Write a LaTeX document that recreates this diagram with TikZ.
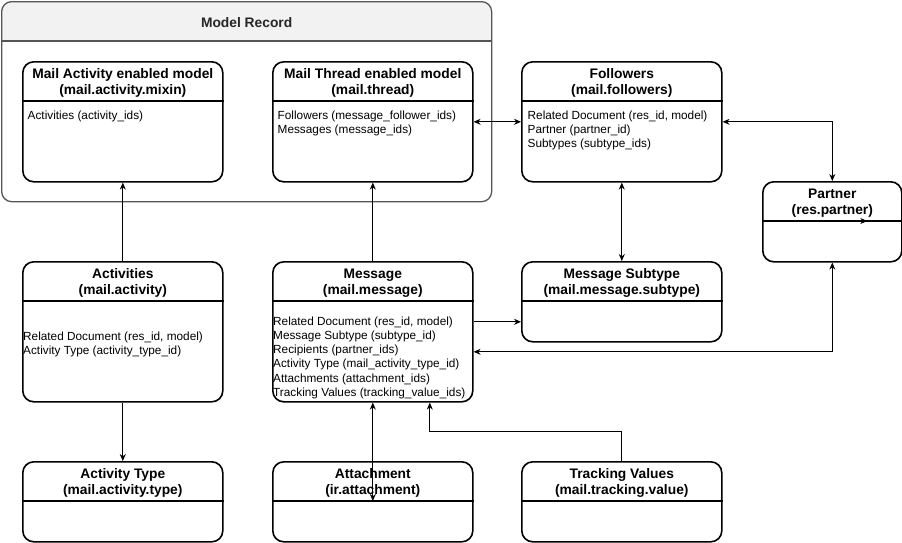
\documentclass[tikz,border=0pt]{standalone}
\usepackage{fontspec}
\setmainfont{Liberation Sans}
\usetikzlibrary{arrows.meta}
\definecolor{recstroke}{HTML}{555555}
\definecolor{hdrfill}{HTML}{F2F2F2}
\tikzset{
  erstyle/.style={draw=black,line width=1.6pt,rounded corners=11pt,fill=white,inner sep=0pt,anchor=north west},
  divline/.style={draw=black,line width=1.6pt},
  ttl/.style={font=\fontsize{13.8}{16.5}\selectfont\bfseries,align=center,inner sep=0pt},
  body/.style={font=\fontsize{11.8}{14.2}\selectfont,align=left,inner sep=0pt,anchor=north west},
  conn/.style={draw=black,line width=0.8pt},
  >={Stealth[length=7pt,width=6pt]}
}
\newcommand\erbox[7]{%
  \node[erstyle,minimum width=#4pt,minimum height=#5pt] (#1) at (#2,#3) {};
  \draw[divline] ([yshift=-#6pt]#1.north west) -- ([yshift=-#6pt]#1.north east);
  \node[ttl] (#1t) at ([yshift=-#6pt/2-2pt]#1.north) {#7};
}
\begin{document}
\begin{tikzpicture}[x=1pt,y=-1pt]
\useasboundingbox (0,0) rectangle (902,542);
% container
\begin{scope}
  \clip (0,0) rectangle (493,41);
  \fill[hdrfill,rounded corners=10pt] (1,1) rectangle (491,201);
\end{scope}
\node[draw=recstroke,line width=1.3pt,rounded corners=10pt,minimum width=490pt,minimum height=200pt,anchor=north west,inner sep=0pt] (rec) at (1,1) {};
\draw[recstroke,line width=1.3pt] ([yshift=-40pt]rec.north west) -- ([yshift=-40pt]rec.north east);
\node[ttl,text=black!85] (rect) at ([yshift=-22pt]rec.north) {Model Record};
% boxes
\erbox{mam}{22}{61}{200}{120}{40}{Mail Activity enabled model\\(mail.activity.mixin)}
\erbox{mt}{272}{61}{200}{120}{40}{Mail Thread enabled model\\(mail.thread)}
\erbox{fol}{521}{61}{200}{120}{40}{Followers\\(mail.followers)}
\erbox{par}{762}{181}{139}{80}{40}{Partner\\(res.partner)}
\erbox{act}{22}{261}{200}{140}{40}{Activities\\(mail.activity)}
\erbox{msg}{272}{261}{200}{140}{40}{Message\\(mail.message)}
\erbox{sub}{521}{261}{200}{80}{40}{Message Subtype\\(mail.message.subtype)}
\erbox{aty}{22}{461}{200}{80}{40}{Activity Type\\(mail.activity.type)}
\erbox{att}{272}{461}{200}{80}{40}{Attachment\\(ir.attachment)}
\erbox{trk}{521}{461}{200}{80}{40}{Tracking Values\\(mail.tracking.value)}
% bodies
\node[body] (mamb) at (27.5,110.5) {Activities (activity\_ids)};
\node[body] (mtb) at (277.5,110.5) {Followers (message\_follower\_ids)\\Messages (message\_ids)};
\node[body] (folb) at (527.5,110.5) {Related Document (res\_id, model)\\Partner (partner\_id)\\Subtypes (subtype\_ids)};
\node[body] (actb) at (23,331.5) {Related Document (res\_id, model)\\Activity Type (activity\_type\_id)};
\node[body] (msgb) at (273,316.5) {Related Document (res\_id, model)\\Message Subtype (subtype\_id)\\Recipients (partner\_ids)\\Activity Type (mail\_activity\_type\_id)\\Attachments (attachment\_ids)\\Tracking Values (tracking\_value\_ids)};
% connectors
\draw[conn,->] (act.north) -- (mam.south);
\draw[conn,->] (msg.north) -- (mt.south);
\draw[conn,<->] (mt.east) -- (fol.west);
\draw[conn,<->] (fol.east) -| (par.north);
\draw[conn,<->] (fol.south) -- (sub.north);
\draw[conn,->] ([xshift=15pt,yshift=-40pt]par.north) -- ([xshift=35pt,yshift=-40pt]par.north);
\draw[conn,->] ([yshift=10pt]msg.east) -- ([yshift=10pt]msg.east -| sub.west);
\draw[conn,<->] ([yshift=-20pt]msg.east) -| (par.south);
\draw[conn,->] (act.south) -- (aty.north);
\draw[conn,<->] (msg.south) -- ([yshift=-40pt]att.north);
\draw[conn,->] (trk.north) -- ++(0,-30) -| ([xshift=57pt]msg.south);
\end{tikzpicture}
\end{document}
